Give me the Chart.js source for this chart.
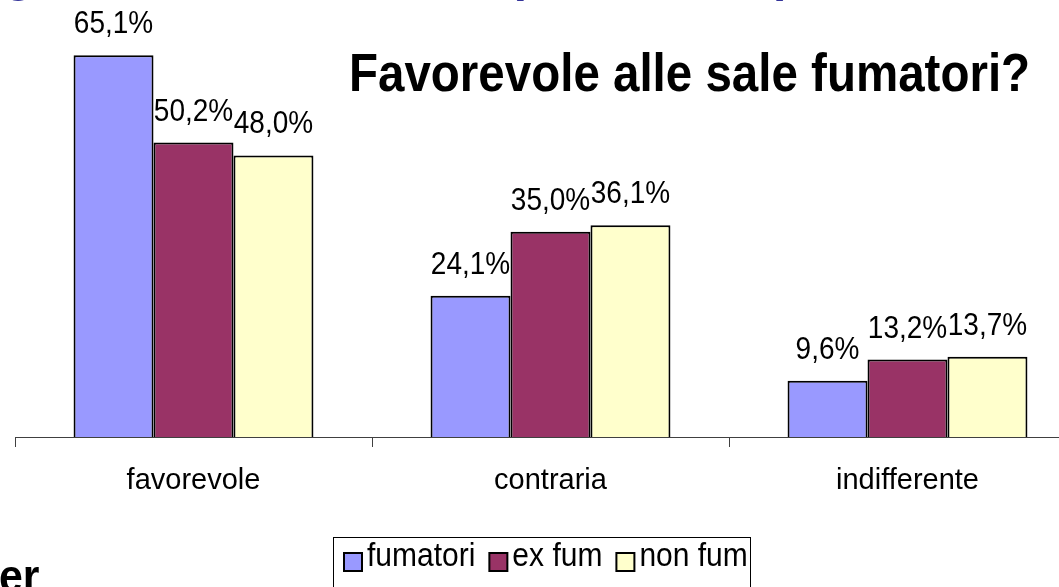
<!DOCTYPE html>
<html>
<head>
<meta charset="utf-8">
<title>Favorevole alle sale fumatori?</title>
<script src="https://cdn.jsdelivr.net/npm/chart.js@4.4.1/dist/chart.umd.min.js"></script>
<style>
  html, body { margin: 0; padding: 0; width: 1059px; height: 587px; overflow: hidden; background: #fff; }
  #wrap { position: absolute; left: 0; top: 0; width: 1100px; height: 587px; }
  /* pezzi del titolo della slide, tagliati dal bordo */
  .frag { position: absolute; top: -49px; font: bold 48px "Liberation Sans", Arial, sans-serif; line-height: 48px; color: #333399; }
  #er { position: absolute; left: -1px; top: 553px; font: bold 46px "Liberation Sans", Arial, sans-serif; line-height: 46px; color: #000; transform: scaleX(0.93); transform-origin: 0 0; }
</style>
</head>
<body>
<div id="wrap"><canvas id="chart" width="1100" height="587"></canvas></div>
<span class="frag" style="left:4px">g</span>
<span class="frag" style="left:508px">(</span>
<span class="frag" style="left:776px">)</span>
<div id="er">er</div>

<script>
// dati
const categories = ['favorevole', 'contraria', 'indifferente'];
const seriesNames = ['fumatori', 'ex fum', 'non fum'];
const fumatori = [65.1, 24.1, 9.6];
const exFum = [50.2, 35.0, 13.2];
const nonFum = [48.0, 36.1, 13.7];

const chartTitle = 'Favorevole alle sale fumatori?';
const colors = ['#9999FF', '#993366', '#FFFFCC'];
const FONT = '"Liberation Sans", Arial, sans-serif';
const STRETCH = 1.12; // il testo dell'originale e' un po' allungato in verticale

// scrive un testo allungato in verticale, con la linea di base in (x, y)
function tallText(ctx, txt, x, y) {
  ctx.save();
  ctx.translate(x, y);
  ctx.scale(1, STRETCH);
  ctx.fillText(txt, 0, 0);
  ctx.restore();
}

/**
 * Etichette con il valore sopra ogni barra (formato italiano, virgola)
 */
const valueLabels = {
  id: 'valueLabels',
  afterDatasetsDraw(chart) {
    const ctx = chart.ctx;
    ctx.save();
    ctx.font = '28px ' + FONT;
    ctx.fillStyle = '#000';
    ctx.textAlign = 'center';
    ctx.textBaseline = 'alphabetic';
    chart.data.datasets.forEach((ds, i) => {
      chart.getDatasetMeta(i).data.forEach((bar, j) => {
        const txt = ds.data[j].toFixed(1).replace('.', ',') + '%';
        tallText(ctx, txt, bar.x, bar.y - 22);
      });
    });
    ctx.restore();
  }
};

/**
 * Titolo dentro l'area del grafico e legenda con cornice in basso
 */
const titleAndLegend = {
  id: 'titleAndLegend',
  afterDraw(chart) {
    const ctx = chart.ctx;
    ctx.save();

    // titolo
    ctx.font = 'bold 47.5px ' + FONT;
    ctx.fillStyle = '#000';
    ctx.textAlign = 'left';
    ctx.textBaseline = 'alphabetic';
    tallText(ctx, chartTitle, 349, 91);

    // legenda
    ctx.strokeStyle = '#000';
    ctx.lineWidth = 1;
    ctx.strokeRect(333.5, 537.5, 417, 80);

    ctx.font = '30px ' + FONT;
    let x = 344;
    chart.data.datasets.forEach((ds) => {
      ctx.fillStyle = ds.backgroundColor;
      ctx.fillRect(x, 553, 18, 18);
      ctx.lineWidth = 2;
      ctx.strokeRect(x, 553, 18, 18);
      ctx.fillStyle = '#000';
      tallText(ctx, ds.label, x + 23, 566);
      x += 23 + ctx.measureText(ds.label).width + 14;
    });

    ctx.restore();
  }
};

const node = document.getElementById('chart');

const myChart = new Chart(node, {
  type: 'bar',
  data: {
    labels: categories,
    datasets: [
      { label: seriesNames[0], data: fumatori, backgroundColor: colors[0] },
      { label: seriesNames[1], data: exFum, backgroundColor: colors[1] },
      { label: seriesNames[2], data: nonFum, backgroundColor: colors[2] }
    ]
  },
  options: {
    responsive: false,
    animation: false,
    layout: { padding: { left: 15, right: 14, top: 0, bottom: 90 } },
    datasets: {
      bar: {
        borderColor: '#000',
        borderWidth: 2,
        barPercentage: 1,
        categoryPercentage: 0.672
      }
    },
    plugins: {
      legend: { display: false },
      title: { display: false },
      tooltip: { enabled: false }
    },
    scales: {
      x: {
        offset: true,
        grid: { offset: true, drawOnChartArea: false, tickLength: 10, color: '#404040', lineWidth: 1 },
        border: { display: true, color: '#404040', width: 1 },
        ticks: { color: '#000', font: { family: FONT, size: 29 }, padding: 17 },
        afterFit: (scale) => { scale.height = 60; }
      },
      y: {
        display: false,
        min: 0,
        max: 74.5
      }
    }
  },
  plugins: [valueLabels, titleAndLegend]
});
</script>
</body>
</html>
